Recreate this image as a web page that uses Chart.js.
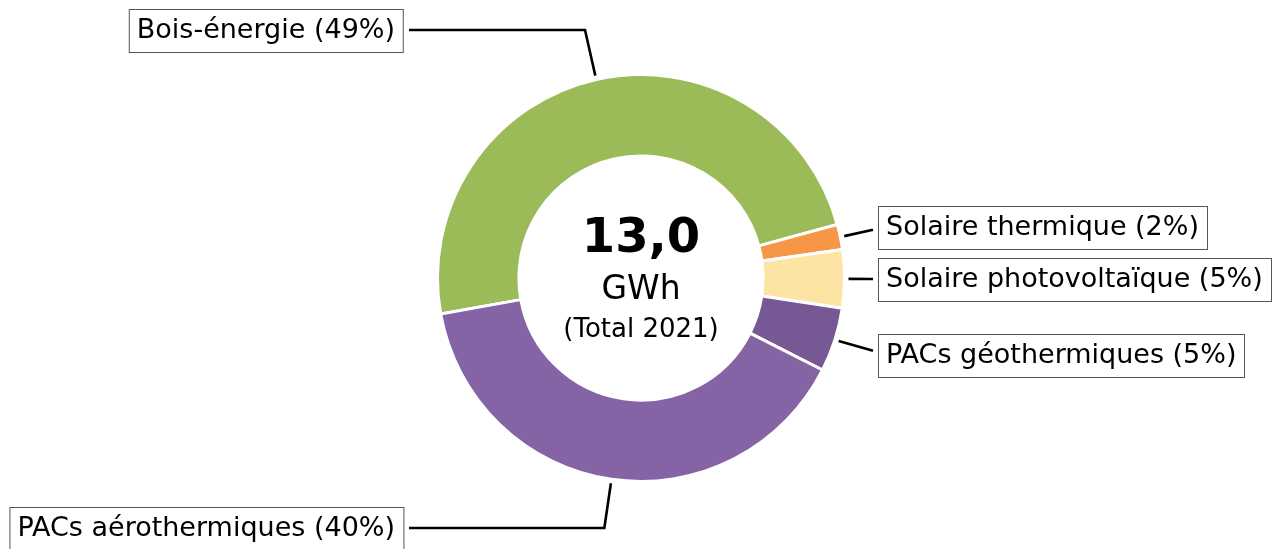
<!DOCTYPE html>
<html>
<head>
<meta charset="utf-8">
<script src="https://cdn.jsdelivr.net/npm/chart.js@4.4.1/dist/chart.umd.min.js"></script>
<style>
  html, body { margin: 0; padding: 0; background: #fff; }
  #wrap { width: 1273px; height: 549px; position: relative; }
</style>
</head>
<body>
<div id="wrap"><canvas id="mixChart"></canvas></div>
<script>
// data
const categories = ['Bois-énergie', 'Solaire thermique', 'Solaire photovoltaïque', 'PACs géothermiques', 'PACs aérothermiques'];
const shares = [48.6, 2.0, 4.6, 5.1, 39.7];
const sliceColors = ['#9bbb59', '#f79646', '#fde3a4', '#765894', '#8464a5'];
const totalValue = '13,0';
const totalUnit = 'GWh';
const totalNote = '(Total 2021)';

// where each label box sits (edge = right edge for left boxes, left edge for right boxes)
const labelBoxes = [
    { side: 'left', edge: 403, y: 30 },
    { side: 'right', edge: 878, y: 227 },
    { side: 'right', edge: 878, y: 279 },
    { side: 'right', edge: 878, y: 355 },
    { side: 'left', edge: 403, y: 528 }
];

const FONT = '"DejaVu Sans", sans-serif';

const calloutPlugin = {
    id: 'callouts',
    afterDraw(chart) {
        const ctx = chart.ctx;
        const arcs = chart.getDatasetMeta(0).data;
        const total = shares.reduce((a, b) => a + b, 0);
        ctx.save();

        // center text
        const cx = arcs[0].x, cy = arcs[0].y;
        ctx.fillStyle = '#000';
        ctx.textAlign = 'center';
        ctx.textBaseline = 'alphabetic';
        ctx.font = 'bold 48px ' + FONT;
        ctx.fillText(totalValue, cx, cy - 26);
        ctx.font = '33px ' + FONT;
        ctx.fillText(totalUnit, cx, cy + 21);
        ctx.font = '26px ' + FONT;
        ctx.fillText(totalNote, cx, cy + 59);

        // labels with leader lines
        ctx.font = '27px ' + FONT;
        ctx.textAlign = 'left';
        ctx.textBaseline = 'middle';
        arcs.forEach((arc, i) => {
            const box = labelBoxes[i];
            const text = categories[i] + ' (' + Math.round(shares[i] / total * 100) + '%)';
            const w = ctx.measureText(text).width;
            const pad = 8, h = 43;
            const bx = box.side === 'left' ? box.edge - w - 2 * pad : box.edge;
            ctx.fillStyle = '#fff';
            ctx.fillRect(bx, box.y - h / 2, w + 2 * pad, h);
            ctx.strokeStyle = '#555';
            ctx.lineWidth = 1;
            ctx.strokeRect(bx + 0.5, Math.round(box.y - h / 2) + 0.5, Math.round(w + 2 * pad), h);
            ctx.fillStyle = '#000';
            ctx.fillText(text, bx + pad, box.y + 1);

            const mid = (arc.startAngle + arc.endAngle) / 2;
            const r = arc.outerRadius + 4;
            const ax = arc.x + Math.cos(mid) * r;
            const ay = arc.y + Math.sin(mid) * r;
            ctx.strokeStyle = '#000';
            ctx.lineWidth = 2.6;
            ctx.lineCap = 'butt';
            ctx.lineJoin = 'miter';
            ctx.beginPath();
            ctx.moveTo(ax, ay);
            if (box.side === 'left') {
                // run along the radius up/down to the box row, then across
                const ex = ax + (box.y - ay) * Math.cos(mid) / Math.sin(mid);
                ctx.lineTo(ex, box.y);
                ctx.lineTo(box.edge + 6, box.y);
            } else {
                ctx.lineTo(box.edge - 5, ay + (box.y - ay) * 0.7);
            }
            ctx.stroke();
        });
        ctx.restore();
    }
};

new Chart(document.getElementById('mixChart'), {
    type: 'doughnut',
    data: {
        labels: categories,
        datasets: [{
            data: shares,
            backgroundColor: sliceColors,
            borderColor: '#fff',
            borderWidth: 3,
            hoverOffset: 0
        }]
    },
    options: {
        responsive: true,
        maintainAspectRatio: false,
        animation: false,
        rotation: 259.8,
        cutout: '60%',
        layout: { padding: { left: 436, right: 427, top: 73, bottom: 66 } },
        plugins: {
            legend: { display: false },
            tooltip: { enabled: false }
        }
    },
    plugins: [calloutPlugin]
});
</script>
</body>
</html>
